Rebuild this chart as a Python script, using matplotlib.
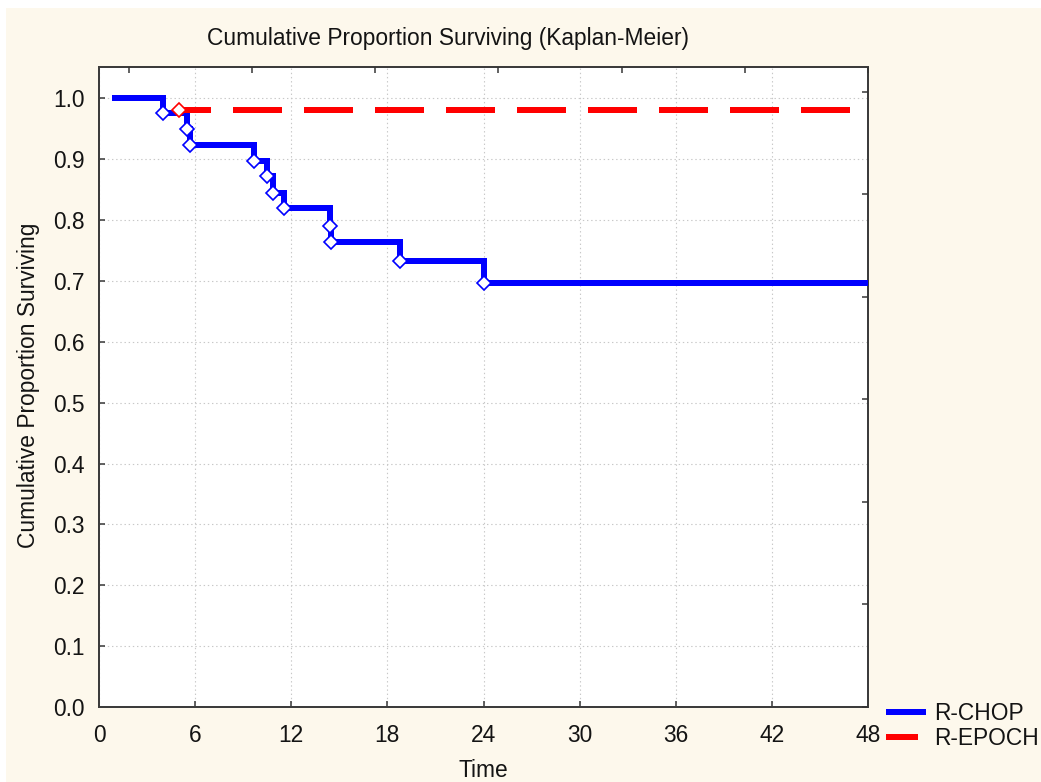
#!/usr/bin/env python3
import matplotlib
matplotlib.use('Agg')
import matplotlib.pyplot as plt
from matplotlib.patches import Rectangle

# Kaplan-Meier estimates (time, cumulative proportion surviving)
rchop_time = [0.8, 4.0, 5.5, 5.7, 9.7, 10.5, 10.85, 11.55, 14.4, 14.45, 18.8, 24.0, 48.0]
rchop_surv = [1.0, 0.976, 0.950, 0.924, 0.897, 0.872, 0.845, 0.819, 0.790, 0.764, 0.733, 0.697, 0.697]
repoch_time = [5.0, 48.0]
repoch_surv = [0.980, 0.980]

x_ticks = [0, 6, 12, 18, 24, 30, 36, 42, 48]
y_ticks = [0.0, 0.1, 0.2, 0.3, 0.4, 0.5, 0.6, 0.7, 0.8, 0.9, 1.0]

plt.rcParams['font.family'] = ['Liberation Sans', 'DejaVu Sans']
plt.rcParams['lines.scale_dashes'] = False

W, H = 1041, 782
PT = 0.72  # points per pixel at dpi 100
cream = '#fdf8ec'
txt = '#141414'
fs = 16.4

fig = plt.figure(figsize=(W / 100, H / 100), dpi=100, facecolor='white')
# cream panel (thin white strip left and top like the screenshot)
fig.add_artist(Rectangle((6 / W, 0), 1, 1 - 8 / H, transform=fig.transFigure,
                         facecolor=cream, edgecolor='none', zorder=-10))

ax = fig.add_axes([99 / W, 1 - 707 / H, 769 / W, 640 / H])
ax.set_facecolor('white')

# R-CHOP step curve with markers at each step
ax.step(rchop_time, rchop_surv, where='post', color='#0000ff', linewidth=6 * PT,
        solid_capstyle='butt', solid_joinstyle='miter', zorder=3, label='R-CHOP')
ax.plot(rchop_time[1:-1], rchop_surv[1:-1], linestyle='none', marker='D', markersize=7.5,
        markerfacecolor='white', markeredgecolor='#0000ff', markeredgewidth=1.2, zorder=5)

# R-EPOCH dashed
ax.step(repoch_time, repoch_surv, where='post', color='#ff0000', linewidth=6 * PT,
        linestyle=(17 * PT, (49 * PT, 22 * PT)), dash_capstyle='butt', zorder=4, label='R-EPOCH')
ax.plot(repoch_time[:1], repoch_surv[:1], linestyle='none', marker='D', markersize=7.5,
        markerfacecolor='white', markeredgecolor='#ff0000', markeredgewidth=1.2, zorder=5)

ax.set_xlim(0, 48)
ax.set_ylim(0, 1.0514)
ax.set_xticks(x_ticks)
ax.set_yticks(y_ticks)
ax.set_xticklabels([str(t) for t in x_ticks])
ax.set_yticklabels(['%.1f' % v for v in y_ticks])
ax.grid(True, color='#c8c8c8', linestyle=(0, (1, 2)), linewidth=0.8)
ax.set_axisbelow(True)

ax.tick_params(axis='both', direction='in', length=6 * PT, width=1.5 * PT, color='#333333',
               labelsize=fs, labelcolor=txt)
ax.tick_params(axis='x', pad=12)
ax.tick_params(axis='y', pad=10)
for s in ax.spines.values():
    s.set_color('#3c3c3c')
    s.set_linewidth(2 * PT)

# extra unlabeled tick marks on the top and right edges
ax_top = ax.twiny()
ax_top.set_xlim(6.24, 0)
ax_top.set_xticks(range(7))
ax_top.tick_params(axis='x', direction='in', length=6 * PT, width=1.5 * PT, color='#333333',
                   labeltop=False)
ax_right = ax.twinx()
ax_right.set_ylim(0, 6.24)
ax_right.set_yticks(range(7))
ax_right.tick_params(axis='y', direction='in', length=6 * PT, width=1.5 * PT, color='#333333',
                     labelright=False)
for a in (ax_top, ax_right):
    for s in a.spines.values():
        s.set_visible(False)

# texts
fig.text(448 / W, 1 - 45 / H, 'Cumulative Proportion Surviving (Kaplan-Meier)',
         ha='center', va='baseline', fontsize=fs, color=txt)
fig.text(483 / W, 1 - 777 / H, 'Time', ha='center', va='baseline', fontsize=fs, color=txt)
fig.text(35 / W, 1 - 385 / H, 'Cumulative Proportion Surviving', rotation=90,
         rotation_mode='anchor', ha='center', va='baseline', fontsize=fs, color=txt)

h, l = ax.get_legend_handles_labels()
fig.legend(h, l, loc='center left', bbox_to_anchor=(886 / W, 1 - 726 / H),
           frameon=False, fontsize=fs, borderpad=0, borderaxespad=0,
           handlelength=1.76, handletextpad=0.35, labelspacing=0.05, labelcolor=txt)

plt.savefig('out.png', dpi=100, facecolor=fig.get_facecolor())
print('Saved plot to out.png')
